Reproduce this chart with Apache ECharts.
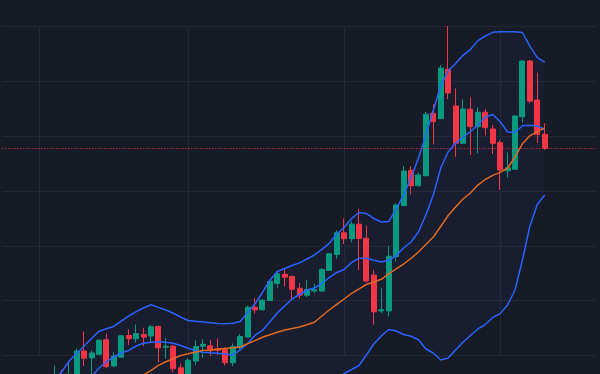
<!DOCTYPE html>
<html>
<head>
<meta charset="utf-8">
<script src="https://cdn.jsdelivr.net/npm/echarts@6/dist/echarts.min.js"></script>
<style>
html,body{margin:0;padding:0;background:#171b26;}
#chart{width:600px;height:374px;}
</style>
</head>
<body>
<div id="chart"></div>
<script>
// ---- data ----
const categories = Array.from({length: 81}, (_, i) => 'D' + (i + 1));
const monthStarts = [5, 25, 46, 67];
const N = null;
const opens = [N,N,N,N,N,N,N,
 94.58, 96.22, 94.03, 95.49, 100.79, 99.51, 100.18, 102.85, 98.05, 99.65,
 103.62, 103.03, 103.80, 103.52, 105.26, 101.46, 101.66, 97.72, 95.86, 98.96,
 101.64, 101.73, 101.24, 101.02, 98.65, 101.39, 103.34, 108.78, 108.31, 110.01,
 113.11, 114.79, 114.39, 112.25, 110.97, 111.74, 111.74, 115.48, 118.40, 122.37,
 121.29, 123.94, 121.38, 114.66, 108.09, 108.09, 118.04, 127.31, 133.78, 130.97,
 132.79, 144.18, 143.20, 152.22, 145.52, 138.71, 144.93, 141.74, 144.37, 141.32,
 138.82, 133.70, 133.96, 143.56, 153.73, 146.61, 140.35];
const closes = [N,N,N,N,N,N,N,
 96.40, 94.58, 96.22, 100.79, 99.47, 100.42, 102.76, 97.96, 99.84, 103.56,
 103.03, 103.98, 103.34, 105.20, 101.37, 101.66, 97.54, 95.49, 99.11, 101.61,
 102.01, 100.84, 100.93, 98.65, 101.61, 103.43, 108.78, 108.31, 110.06, 113.53,
 114.88, 114.26, 112.05, 110.97, 112.01, 111.96, 115.67, 118.53, 122.37, 121.29,
 123.94, 121.33, 113.57, 107.94, 108.31, 118.09, 127.44, 133.65, 130.97, 132.92,
 144.02, 142.65, 152.46, 147.89, 138.71, 144.97, 141.74, 144.37, 141.56, 138.71,
 133.83, 134.25, 143.69, 153.73, 146.43, 140.35, 137.79];
const lows = [N,N,N,N,N,N,N,
 93.66, 93.66, 93.30, 94.94, 98.05, 96.59, 100.05, 97.64, 97.81, 99.56,
 101.88, 102.34, 101.70, 102.34, 98.78, 99.42, 96.91, 94.58, 95.49, 98.23,
 99.51, 99.87, 100.05, 98.14, 98.05, 101.10, 103.25, 107.63, 108.22, 109.91,
 112.25, 112.56, 110.01, 110.33, 110.64, 111.37, 111.56, 115.39, 117.67, 120.28,
 120.63, 115.54, 113.29, 105.59, 107.69, 107.08, 117.09, 127.26, 129.40, 130.82,
 132.74, 138.52, 143.14, 146.76, 136.26, 138.62, 136.57, 136.88, 140.13, 136.75,
 130.18, 132.46, 133.87, 142.47, 146.01, 138.76, 137.52];
const highs = [N,N,N,N,N,N,N,
 98.14, 97.32, 98.69, 101.28, 104.35, 100.88, 102.88, 103.98, 100.55, 103.71,
 104.71, 105.62, 105.04, 105.59, 105.44, 103.16, 101.88, 98.50, 99.51, 102.70,
 102.92, 102.79, 103.07, 101.52, 102.15, 103.89, 109.06, 110.43, 110.22, 113.80,
 115.30, 115.85, 114.61, 113.20, 113.71, 113.07, 115.94, 118.68, 122.84, 124.98,
 124.43, 126.77, 123.70, 115.57, 112.25, 119.92, 127.72, 134.56, 134.56, 133.34,
 144.42, 145.83, 153.00, 160.12, 148.75, 146.76, 147.11, 145.28, 144.93, 142.05,
 139.31, 137.03, 143.87, 153.82, 153.92, 151.60, 142.36];
const upperBand = [N,N,N,N,N,N,N,
 95.13, 97.04, 98.96, 100.33, 101.70, 103.07, 104.38, 104.84, 105.31, 106.26,
 107.18, 107.96, 108.64, 109.22, 108.75, 108.27, 107.67, 106.99, 106.35, 106.23,
 106.08, 105.93, 105.81, 105.75, 105.84, 106.17, 107.81, 109.37, 111.47, 113.69,
 115.30, 115.85, 116.40, 116.89, 117.58, 118.31, 119.35, 120.45, 122.15, 123.33,
 124.98, 126.07, 125.89, 124.98, 124.34, 124.43, 126.71, 129.27, 132.37, 136.02,
 140.22, 144.79, 149.17, 151.91, 153.28, 154.77, 155.83, 157.46, 158.30, 158.97,
 159.08, 159.08, 159.08, 158.94, 156.47, 154.37, 153.55];
const middleBand = [N,N,N,N,N,N,N,N,N,N,N,N,
 96.04, 97.68, 98.78, 99.74, 100.42, 100.88, 101.70, 102.19, 102.37, 102.46,
 102.37, 102.21, 101.79, 101.30, 100.82, 100.55, 100.46, 100.38, 100.24, 100.05,
 100.97, 102.15, 103.62, 104.53, 106.08, 107.72, 109.00, 110.28, 111.10, 111.92,
 112.29, 113.11, 114.20, 115.12, 115.67, 116.94, 117.73, 117.71, 117.35, 117.03,
 117.35, 118.22, 119.59, 120.69, 122.51, 125.62, 129.27, 134.20, 137.12, 138.76,
 139.86, 140.86, 142.05, 143.51, 143.97, 142.65, 140.79, 140.68, 141.92, 142.01,
 141.87, 141.23];
const lowerBand = [N,N,N,N,N,N,N,N,N,N,N,N,N,N,N,N,N,N,N,N,N,N,N,N,N,N,N,N,N,N,
 N,N,N,N,N,N,N,N,N,N,N,N,N,N,N,
 95.86, 96.66, 97.41, 98.14, 100.05, 102.06, 103.52, 104.71, 104.44, 103.80,
 103.47, 102.83, 101.15, 100.42, 99.14, 99.51, 100.97, 102.37, 103.62, 104.80,
 105.62, 106.90, 107.61, 109.18, 111.92, 117.40, 123.61, 127.53, 129.27];
const movingAvg = [N,N,N,N,N,N,N,N,N,N,N,N,N,N,N,N,N,N,
 95.49, 96.40, 97.22, 98.17,
 98.83, 99.36, 99.96, 100.27, 100.60, 100.91, 100.97, 101.10, 101.24, 101.39,
 101.52, 102.10, 102.68, 103.29, 103.74, 104.20, 104.62, 104.89, 105.17, 105.59,
 106.04, 107.18, 108.27, 109.28, 110.28, 111.32, 112.14, 112.93, 113.38, 113.88,
 114.88, 115.76, 116.67, 117.71, 118.86, 120.23, 121.60, 123.52, 125.52, 127.08,
 128.54, 129.63, 131.09, 132.10, 132.86, 133.41, 134.20, 136.21, 138.62, 140.08,
 140.88, 141.50];

// ---- build ----
const Y_MIN = 100, Y_MAX = 160, FLOOR = 90;
const candleData = opens.map((o, i) => o == null ? '-' : [o, closes[i], lows[i], highs[i]]);
const dash = a => a.map(v => v == null ? '-' : v);
const baseOf = i => lowerBand[i] == null ? FLOOR : lowerBand[i];
const bandBase = upperBand.map((u, i) => u == null ? '-' : baseOf(i));
const bandWidth = upperBand.map((u, i) => u == null ? '-' : u - baseOf(i));
const lastClose = closes[closes.length - 1];

const chart = echarts.init(document.getElementById('chart'), null, {renderer: 'canvas'});
const GRID = '#242834';
const BLUE = '#2962ff';
const lineCommon = {type: 'line', symbol: 'none', silent: true, smooth: false, z: 5, clip: false};
chart.setOption({
  backgroundColor: '#171b26',
  animation: false,
  grid: {left: 2.35, right: 3.25, top: 26.7, bottom: 18.7},
  xAxis: {
    type: 'category', data: categories, boundaryGap: false,
    axisLine: {show: false}, axisTick: {show: false}, axisLabel: {show: false},
    splitLine: {show: true, interval: (idx) => monthStarts.includes(idx), lineStyle: {color: GRID, width: 1}}
  },
  yAxis: {
    type: 'value', min: Y_MIN, max: Y_MAX, interval: 10,
    axisLine: {show: false}, axisTick: {show: false}, axisLabel: {show: false},
    splitLine: {show: true, lineStyle: {color: GRID, width: 1}}
  },
  series: [
    Object.assign({}, lineCommon, {data: bandBase, stack: 'bb', lineStyle: {opacity: 0}, z: 1}),
    Object.assign({}, lineCommon, {data: bandWidth, stack: 'bb', lineStyle: {opacity: 0},
      areaStyle: {color: 'rgba(41,98,255,0.06)'}, z: 1}),
    {
      type: 'candlestick', data: candleData, barWidth: 5.5, silent: true, z: 3, clip: false,
      itemStyle: {color: '#089981', color0: '#f23645', borderColor: '#089981', borderColor0: '#f23645', borderWidth: 1},
      markLine: {
        silent: true, symbol: ['none', 'none'], label: {show: false},
        lineStyle: {color: '#f23645', type: [1, 2], width: 1},
        data: [{yAxis: lastClose}]
      }
    },
    Object.assign({}, lineCommon, {data: dash(upperBand), lineStyle: {color: BLUE, width: 1.5}}),
    Object.assign({}, lineCommon, {data: dash(middleBand), lineStyle: {color: BLUE, width: 1.5}}),
    Object.assign({}, lineCommon, {data: dash(lowerBand), lineStyle: {color: BLUE, width: 1.5}}),
    Object.assign({}, lineCommon, {data: dash(movingAvg), lineStyle: {color: '#e0691f', width: 1.5}})
  ]
});
</script>
</body>
</html>
